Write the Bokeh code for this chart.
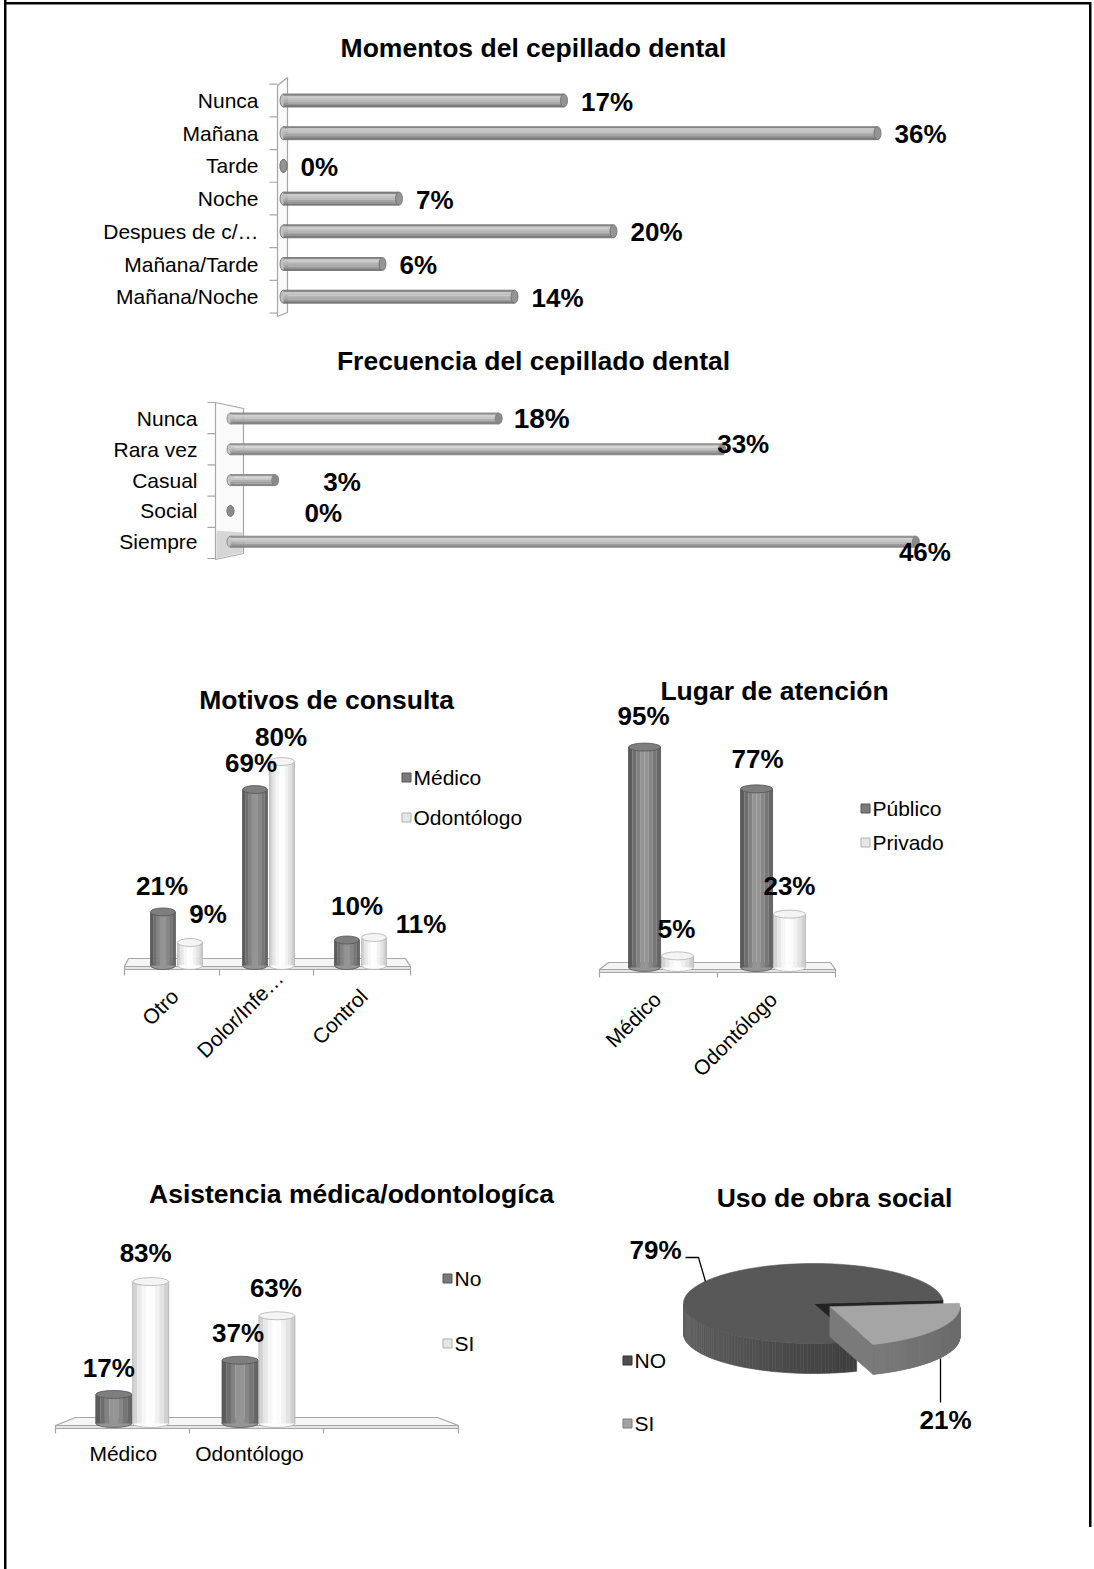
import numpy as np
from bokeh.plotting import figure
from bokeh.layouts import column, row
from bokeh.models import Range1d
from bokeh.core.properties import value
from bokeh.embed import file_html
from bokeh.resources import INLINE

# ---------------- data ----------------
momentos_cats = ["Nunca", "Mañana", "Tarde", "Noche", "Despues de c/…", "Mañana/Tarde", "Mañana/Noche"]
momentos_vals = [17, 36, 0, 7, 20, 6, 14]

frecuencia_cats = ["Nunca", "Rara vez", "Casual", "Social", "Siempre"]
frecuencia_vals = [18, 33, 3, 0, 46]

motivos_cats = ["Otro", "Dolor/Infe…", "Control"]
motivos_series = ["Médico", "Odontólogo"]
motivos_medico = [21, 69, 10]
motivos_odontologo = [9, 80, 11]

lugar_cats = ["Médico", "Odontólogo"]
lugar_series = ["Público", "Privado"]
lugar_publico = [95, 77]
lugar_privado = [5, 23]

asistencia_cats = ["Médico", "Odontólogo"]
asistencia_series = ["No", "SI"]
asistencia_no = [17, 37]
asistencia_si = [83, 63]

obra_cats = ["NO", "SI"]
obra_vals = [79, 21]

# ---------------- styles ----------------
FONT = value("Liberation Sans")
GRID = "#a6a6a6"
TITLE_PX = 26.5
CAT_PX = 21
VAL_PX = 26
LEG_PX = 21
DARK_SHADES = ["#5c5c5c", "#6e6e6e", "#828282", "#939393", "#959595", "#878787", "#777777", "#676767"]
LIGHT_SHADES = ["#d4d4d4", "#e8e8e8", "#f6f6f6", "#ffffff", "#fcfcfc", "#f1f1f1", "#e3e3e3", "#d0d0d0"]
HBAR1_SHADES = ["#8a8a8a", "#c8c8c8", "#c0c0c0", "#b3b3b3", "#a6a6a6", "#959595", "#7a7a7a"]
HBAR2_SHADES = ["#9a9a9a", "#d2d2d2", "#c4c4c4", "#b1b1b1", "#9d9d9d", "#868686"]


class Panel:
    """One figure of the page; ox/oy is the page pixel of the data origin,
    sx/sy the pixels per data unit (negative sy lists rows downwards)."""

    def __init__(self, left, top, w, h, ox, sx, oy, sy):
        self.left, self.top, self.w, self.h = left, top, w, h
        self.ox, self.sx, self.oy, self.sy = ox, sx, oy, sy
        self.p = figure(width=w, height=h, title=None,
                        x_range=Range1d(float(self.X(left)), float(self.X(left + w))),
                        y_range=Range1d(float(self.Y(top + h)), float(self.Y(top))),
                        output_backend="svg", toolbar_location=None, min_border=0,
                        x_axis_type=None, y_axis_type=None, outline_line_color=None,
                        background_fill_color=None, border_fill_color=None)

    def X(self, px):
        return (np.asarray(px, dtype=float) - self.ox) / self.sx

    def Y(self, py):
        return (self.oy - np.asarray(py, dtype=float)) / self.sy

    def PX(self, x):
        return self.ox + self.sx * np.asarray(x, dtype=float)

    def PY(self, y):
        return self.oy - self.sy * np.asarray(y, dtype=float)

    def text(self, px, py, txt, size, bold=False, align="center", baseline="middle", angle=0.0):
        xs = np.atleast_1d(self.X(px)).tolist()
        ys = np.atleast_1d(self.Y(py)).tolist()
        self.p.text(x=xs, y=ys, text=list(txt), angle=angle, text_font=FONT,
                    text_font_size=f"{size}px", text_font_style="bold" if bold else "normal",
                    text_align=align, text_baseline=baseline, text_color="black")

    def poly(self, pts, fill, line=GRID, lw=1.2):
        pts = np.asarray(pts, dtype=float)
        self.p.patch(x=self.X(pts[:, 0]).tolist(), y=self.Y(pts[:, 1]).tolist(),
                     fill_color=fill, line_color=line, line_width=lw)

    def path(self, pts, color=GRID, lw=1.2):
        pts = np.asarray(pts, dtype=float)
        self.p.line(x=self.X(pts[:, 0]).tolist(), y=self.Y(pts[:, 1]).tolist(),
                    line_color=color, line_width=lw)

    def legend_item(self, px, py, fill, line, label):
        self.p.scatter(x=[float(self.X(px))], y=[float(self.Y(py))], marker="square", size=9,
                       fill_color=fill, line_color=line, line_width=1)
        self.text(px + 7, py, [label], LEG_PX, align="left")


def hcylinders(P, vals, bar_px, shades, outline, cap_color):
    rows = np.arange(len(vals), dtype=float)
    vals = np.asarray(vals, dtype=float)
    h = bar_px / abs(P.sy)
    cap_w = 7.0 / P.sx
    n = len(shades)
    P.p.ellipse(x=np.zeros_like(vals), y=rows, width=cap_w, height=h,
                fill_color=shades[2], line_color=outline, line_width=0.8)
    for k, c in enumerate(shades):
        off = (k + 0.5) * h / n - h / 2
        P.p.hbar(y=rows + off, left=0, right=vals, height=h / n * 1.05,
                 fill_color=c, line_color=None)
    P.p.segment(x0=np.zeros_like(vals), y0=rows - h / 2, x1=vals, y1=rows - h / 2,
                line_color=outline, line_width=0.8)
    P.p.segment(x0=np.zeros_like(vals), y0=rows + h / 2, x1=vals, y1=rows + h / 2,
                line_color=outline, line_width=0.8)
    P.p.ellipse(x=vals, y=rows, width=cap_w, height=h, fill_color=cap_color,
                line_color=outline, line_width=0.8)
    return rows


def vcylinders(P, xs, vals, w, shades, outline, top_color):
    xs = np.asarray(xs, dtype=float)
    vals = np.asarray(vals, dtype=float)
    th = 8.0 / P.sy
    n = len(shades)
    P.p.ellipse(x=xs, y=np.zeros_like(xs), width=w, height=th, fill_color=shades[n // 2],
                line_color=outline, line_width=0.8)
    for k, c in enumerate(shades):
        off = -w / 2 + (k + 0.5) * w / n
        P.p.vbar(x=xs + off, bottom=0, top=vals, width=w / n * 1.04,
                 fill_color=c, line_color=None)
    P.p.segment(x0=xs - w / 2, y0=np.zeros_like(xs), x1=xs - w / 2, y1=vals,
                line_color=outline, line_width=0.8)
    P.p.segment(x0=xs + w / 2, y0=np.zeros_like(xs), x1=xs + w / 2, y1=vals,
                line_color=outline, line_width=0.8)
    P.p.ellipse(x=xs, y=vals, width=w, height=th, fill_color=top_color,
                line_color=outline, line_width=0.8)


def floor(P, xl, xr, in_l, in_r, y_back, y_front, y_bottom, ticks, tick_end):
    P.poly([(xl, y_front), (xl + in_l, y_back), (xr - in_r, y_back), (xr, y_front)], "#f5f5f5")
    P.poly([(xl, y_front), (xr, y_front), (xr, y_bottom), (xl, y_bottom)], "#e4e4e4")
    for t in ticks:
        P.path([(t, y_bottom), (t, tick_end)])


def value_labels(P, xs, vals, dx, dy, size=VAL_PX):
    px = P.PX(xs) + np.asarray(dx, dtype=float)
    py = P.PY(vals) + np.asarray(dy, dtype=float)
    P.text(px, py, [f"{v}%" for v in vals], size, bold=True)


# ---------- Momentos del cepillado dental ----------
P1 = Panel(0, 0, 1094, 335, ox=283, sx=16.5, oy=100, sy=-32.7)
P1.text(533, 47, ["Momentos del cepillado dental"], TITLE_PX, bold=True)
# side wall with category ticks
P1.poly([(277, 85), (287, 77), (287, 312), (277, 316)], "#fafafa")
for k in range(len(momentos_cats) + 1):
    yb = 100 - 32.7 / 2 + 32.7 * k
    P1.path([(269, yb), (277, yb)])
rows1 = hcylinders(P1, momentos_vals, 13, HBAR1_SHADES, "#6c6c6c", "#949494")
P1.text(np.full(len(momentos_cats), 258.0), P1.PY(rows1), momentos_cats, CAT_PX, align="right")
P1.text(P1.PX(momentos_vals) + 17, P1.PY(rows1) + 1, [f"{v}%" for v in momentos_vals], VAL_PX,
        bold=True, align="left")

# ---------- Frecuencia del cepillado dental ----------
P2 = Panel(0, 335, 1094, 275, ox=230, sx=14.9, oy=418, sy=-30.8)
P2.text(533, 360, ["Frecuencia del cepillado dental"], TITLE_PX, bold=True)
P2.poly([(215, 402), (243, 408), (243, 553), (215, 559)], "#fafafa")
P2.poly([(216, 530), (242, 532), (242, 552), (216, 558)], "#d6d6d6", None)
for k in range(len(frecuencia_cats) + 1):
    yb = 402 + 31.2 * k
    P2.path([(207, yb), (215, yb)])
rows2 = hcylinders(P2, frecuencia_vals, 11, HBAR2_SHADES, "#7c7c7c", "#8a8a8a")
P2.text(np.full(len(frecuencia_cats), 197.0), P2.PY(rows2), frecuencia_cats, CAT_PX, align="right")
freq_dx = [15, -5, 48, 74, -17]
freq_dy = [0, -5, 2, 2, 10]
freq_size = [28, 26, 26, 26, 26]
for i, v in enumerate(frecuencia_vals):
    P2.text(P2.PX(v) + freq_dx[i], P2.PY(rows2[i]) + freq_dy[i], [f"{v}%"], freq_size[i],
            bold=True, align="left")

# ---------- Motivos de consulta ----------
P3 = Panel(0, 610, 560, 500, ox=176, sx=92, oy=965, sy=2.55)
P3.text(326, 699, ["Motivos de consulta"], TITLE_PX, bold=True)
floor(P3, 124, 410, 4, 5, 958, 966, 969, [124, 219, 313, 410], 975)
x3 = np.arange(len(motivos_cats), dtype=float)
dodge3, w3 = 0.147, 0.27
vcylinders(P3, x3 - dodge3, motivos_medico, w3, DARK_SHADES, "#555555", "#7e7e7e")
vcylinders(P3, x3 + dodge3, motivos_odontologo, w3, LIGHT_SHADES, "#b0b0b0", "#f4f4f4")
value_labels(P3, x3 - dodge3, motivos_medico, [-1, -4, 10], [-26, -27, -34])
value_labels(P3, x3 + dodge3, motivos_odontologo, [18, -1, 47], [-29, -25, -13])
P3.text(P3.PX(x3) + np.array([-10, 3, -5]), np.array([984.0, 966.0, 984.0]), motivos_cats, CAT_PX,
        align="right", baseline="top", angle=np.pi / 4)
P3.legend_item(406, 777, "#7a7a7a", "#555555", motivos_series[0])
P3.legend_item(406, 817, "#e6e6e6", "#b0b0b0", motivos_series[1])

# ---------- Lugar de atención ----------
P4 = Panel(560, 610, 534, 500, ox=660.5, sx=112, oy=967, sy=2.32)
P4.text(774, 690, ["Lugar de atención"], TITLE_PX, bold=True)
floor(P4, 599, 835, 9, 5, 962, 969, 972, [599, 717, 835], 977)
x4 = np.arange(len(lugar_cats), dtype=float)
dodge4, w4 = 0.147, 0.286
vcylinders(P4, x4 - dodge4, lugar_publico, w4, DARK_SHADES, "#555555", "#7e7e7e")
vcylinders(P4, x4 + dodge4, lugar_privado, w4, LIGHT_SHADES, "#b0b0b0", "#f4f4f4")
value_labels(P4, x4 - dodge4, lugar_publico, [-1, 1], [-31, -30])
value_labels(P4, x4 + dodge4, lugar_privado, [-1, 0], [-27, -28])
P4.text(P4.PX(x4) + np.array([-12, -8]), np.full(2, 987.0), lugar_cats, CAT_PX,
        align="right", baseline="top", angle=np.pi / 4)
P4.legend_item(865, 808, "#7a7a7a", "#555555", lugar_series[0])
P4.legend_item(865, 842, "#e6e6e6", "#b0b0b0", lugar_series[1])

# ---------- Asistencia médica/odontologíca ----------
P5 = Panel(0, 1110, 560, 459, ox=131.75, sx=126.25, oy=1423, sy=1.71)
P5.text(351, 1193, ["Asistencia médica/odontologíca"], TITLE_PX, bold=True)
floor(P5, 55, 458, 20, 21, 1417, 1425, 1428, [55, 189, 323, 458], 1433)
x5 = np.arange(len(asistencia_cats), dtype=float)
dodge5, w5 = 0.146, 0.285
vcylinders(P5, x5 - dodge5, asistencia_no, w5, DARK_SHADES, "#555555", "#7e7e7e")
vcylinders(P5, x5 + dodge5, asistencia_si, w5, LIGHT_SHADES, "#b0b0b0", "#f4f4f4")
value_labels(P5, x5 - dodge5, asistencia_no, [-5, -2], [-26, -27])
value_labels(P5, x5 + dodge5, asistencia_si, [-5, -1], [-29, -28])
P5.text(P5.PX(x5) - 9, np.full(2, 1453.0), asistencia_cats, CAT_PX)
P5.legend_item(447, 1278, "#7a7a7a", "#555555", asistencia_series[0])
P5.legend_item(447, 1343, "#e6e6e6", "#b0b0b0", asistencia_series[1])

# ---------- Uso de obra social (3-D pie) ----------
P6 = Panel(560, 1110, 534, 459, ox=813, sx=130, oy=1303, sy=40)
P6.text(834, 1197, ["Uso de obra social"], TITLE_PX, bold=True)

fr = np.asarray(obra_vals, dtype=float) / sum(obra_vals)
start = np.deg2rad(5.0)
bounds = start + 2 * np.pi * np.concatenate([[0.0], np.cumsum(fr)])
depth = 30.0 / P6.sy
mid_si = 0.5 * (bounds[1] + bounds[2])
offsets = [(0.0, 0.0), (0.15 * np.cos(mid_si), 0.15 * np.sin(mid_si))]
top_cols = ["#585858", "#a5a5a5"]
rim_base = [0x4c, 0x84]
face_cols = ["#232323", "#7a7a7a"]

for i in range(len(obra_vals)):
    a0, a1 = bounds[i], bounds[i + 1]
    cx, cy = offsets[i]
    th = np.linspace(a0, a1, 181)
    # visible outer rim (front half)
    rx, ry, rc = [], [], []
    for ta, tb in zip(th[:-1], th[1:]):
        tm = 0.5 * (ta + tb)
        if np.sin(tm) < 0:
            ca, sa, cb, sb = np.cos(ta), np.sin(ta), np.cos(tb), np.sin(tb)
            rx.append([cx + ca, cx + cb, cx + cb, cx + ca])
            ry.append([cy + sa, cy + sb, cy + sb - depth, cy + sa - depth])
            g = int(np.clip(rim_base[i] - 22 * np.cos(tm) + 6 * np.sin(tm), 0, 255))
            rc.append(f"#{g:02x}{g:02x}{g:02x}")
    if rx:
        P6.p.patches(xs=rx, ys=ry, fill_color=rc, line_color=rc, line_width=0.6)
    # visible radial cut face
    fa = a0
    P6.p.patch(x=[cx, cx + np.cos(fa), cx + np.cos(fa), cx],
               y=[cy, cy + np.sin(fa), cy + np.sin(fa) - depth, cy - depth],
               fill_color=face_cols[i], line_color=face_cols[i], line_width=0.6)
    # top surface
    P6.p.patch(x=[cx] + (cx + np.cos(th)).tolist(), y=[cy] + (cy + np.sin(th)).tolist(),
               fill_color=top_cols[i], line_color=top_cols[i], line_width=0.6)

P6.text(655, 1249, [f"{obra_vals[0]}%"], VAL_PX, bold=True)
P6.text(945, 1419, [f"{obra_vals[1]}%"], VAL_PX, bold=True)
P6.path([(685, 1257), (698, 1257), (705, 1281)], "black", 1.3)
P6.path([(940, 1402), (940, 1358)], "black", 1.3)
P6.legend_item(627, 1360, "#4e4e4e", "#333333", obra_cats[0])
P6.legend_item(627, 1423, "#a2a2a2", "#7a7a7a", obra_cats[1])

# page frame (left, top and right rules) painted behind the transparent figures
frame_css = {
    "background-color": "white",
    "background-image": "linear-gradient(#000,#000), linear-gradient(#000,#000), linear-gradient(#000,#000)",
    "background-size": "2.5px 100%, 1087px 2.5px, 2.5px 1525px",
    "background-position": "4px 0px, 4px 2px, 1089px 2px",
    "background-repeat": "no-repeat",
}
page = column(P1.p, P2.p, row(P3.p, P4.p), row(P5.p, P6.p), styles=frame_css)
open("out.html", "w").write(file_html(page, INLINE))
